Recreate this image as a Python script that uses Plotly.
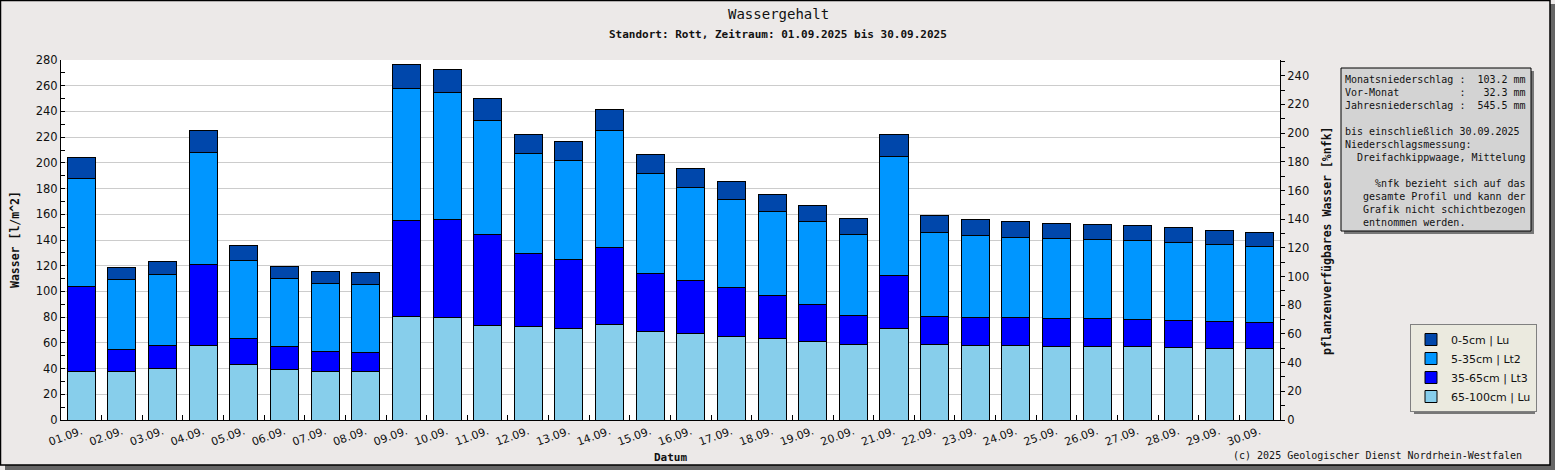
import plotly.graph_objects as go

# Datum (September 2025)
tage = [f"{d:02d}.09." for d in range(1, 31)]

# Wassergehalt je Schicht in l/m^2
schicht_65_100 = [37.6, 37.6, 40.2, 58.1, 43.3, 39.4, 37.6, 37.6, 80.6, 79.6,
                  73.6, 72.6, 71.0, 74.1, 69.0, 67.4, 64.8, 63.3, 61.2, 58.9,
                  71.0, 58.9, 58.1, 58.1, 57.3, 57.3, 57.3, 56.5, 55.7, 55.7]
schicht_35_65 = [66.5, 17.4, 17.4, 63.1, 20.3, 17.4, 15.9, 15.1, 74.9, 76.0,
                 70.8, 57.0, 54.0, 60.2, 45.1, 41.2, 38.4, 33.9, 28.8, 22.5,
                 41.5, 21.7, 21.8, 21.8, 21.8, 21.8, 21.0, 21.0, 21.0, 20.3]
schicht_5_35 = [84.0, 54.5, 55.8, 87.2, 60.7, 53.5, 52.9, 52.9, 102.6, 99.3,
                88.7, 77.8, 77.0, 91.0, 77.8, 72.4, 68.4, 65.1, 64.5, 63.0,
                92.3, 65.1, 63.5, 62.2, 62.2, 61.4, 61.4, 60.7, 59.9, 59.1]
schicht_0_5 = [16.4, 9.4, 10.1, 16.6, 11.7, 9.3, 9.3, 9.4, 18.7, 17.8,
               17.1, 14.8, 14.7, 16.3, 14.7, 14.7, 14.0, 13.2, 12.5, 12.5,
               17.4, 13.5, 12.7, 12.4, 11.7, 11.7, 11.7, 11.7, 10.9, 10.9]

info_zeilen = [
    "Monatsniederschlag :  103.2 mm",
    "Vor-Monat          :   32.3 mm",
    "Jahresniederschlag :  545.5 mm",
    "",
    "bis einschließlich 30.09.2025",
    "Niederschlagsmessung:",
    "  Dreifachkippwaage, Mittelung",
    "",
    "     %nfk bezieht sich auf das",
    "   gesamte Profil und kann der",
    "   Grafik nicht schichtbezogen",
    "   entnommen werden.",
]

mono = "DejaVu Sans Mono"
sans = "DejaVu Sans"

W, H = 1555, 470
L, R, T, B = 61, 275, 60, 50
pw, ph = W - L - R, H - T - B


def px(x):
    return (x - L) / pw


def py(y):
    return (H - B - y) / ph


fig = go.Figure()
for name, vals, col in [("65-100cm | Lu", schicht_65_100, "#87CEEB"),
                        ("35-65cm | Lt3", schicht_35_65, "#0000FF"),
                        ("5-35cm | Lt2", schicht_5_35, "#0096FF"),
                        ("0-5cm | Lu", schicht_0_5, "#0047AB")]:
    fig.add_trace(go.Bar(x=tage, y=vals, name=name,
                         marker=dict(color=col, line=dict(color="black", width=1))))

# leere Spur, damit die rechte Achse (%nfk) gezeichnet wird
fig.add_trace(go.Scatter(x=tage, y=[None] * len(tage), yaxis="y2",
                         showlegend=False, hoverinfo="skip"))

fig.update_layout(
    width=W, height=H,
    margin=dict(l=L, r=R, t=T, b=B, autoexpand=False),
    paper_bgcolor="#ECE9E8", plot_bgcolor="white",
    barmode="stack", bargap=0.31,
    font=dict(family=sans, size=11, color="#111"),
    xaxis=dict(type="category", tickangle=-20, showline=True, linecolor="black",
               ticks="inside", tickson="boundaries", ticklen=5, tickcolor="black",
               showgrid=False, tickfont=dict(size=11)),
    yaxis=dict(range=[0, 280], dtick=20, showline=True, linecolor="black",
               ticks="inside", ticklen=4, tickcolor="black",
               gridcolor="#CCCCCC", zeroline=False, tickfont=dict(size=11.5),
               minor=dict(dtick=10, ticks="inside", ticklen=4, tickcolor="black", showgrid=False)),
    yaxis2=dict(range=[0, 251], dtick=20, overlaying="y", side="right", anchor="x",
                showline=True, linecolor="black", ticks="outside", ticklen=4,
                tickcolor="black", showgrid=False, zeroline=False, tickfont=dict(size=11.5),
                minor=dict(dtick=10, ticks="outside", ticklen=4, tickcolor="black")),
    legend=dict(x=px(1410), y=py(324), xanchor="left", yanchor="top",
                traceorder="reversed", bgcolor="#EBEADF", bordercolor="#808080",
                borderwidth=1, font=dict(family=sans, size=11)),
    showlegend=True,
)

shapes = [
    # Rahmen mit Schatten
    dict(type="rect", xref="paper", yref="paper", x0=px(1550), x1=px(1555),
         y0=py(470), y1=py(4), fillcolor="#666666", line=dict(width=0)),
    dict(type="rect", xref="paper", yref="paper", x0=px(5), x1=px(1555),
         y0=py(470), y1=py(465), fillcolor="#666666", line=dict(width=0)),
    dict(type="rect", xref="paper", yref="paper", x0=px(0.5), x1=px(1550),
         y0=py(465), y1=py(0.5), line=dict(color="black", width=1.5)),
    # Infobox
    dict(type="rect", xref="paper", yref="paper", x0=px(1344), x1=px(1534),
         y0=py(234), y1=py(71), fillcolor="#777777", line=dict(width=0)),
    dict(type="rect", xref="paper", yref="paper", x0=px(1341), x1=px(1531),
         y0=py(231), y1=py(68), fillcolor="#D3D3D3", line=dict(color="black", width=1)),
    # Legendenschatten
    dict(type="rect", xref="paper", yref="paper", x0=px(1414), x1=px(1535),
         y0=py(414), y1=py(328), fillcolor="#777777", line=dict(width=0)),
]
fig.update_layout(shapes=shapes)

info_text = "<br>".join(z.replace(" ", "\u00a0") for z in info_zeilen)

annos = [
    dict(text="Wassergehalt", x=px(778), y=py(14), font=dict(family=mono, size=14)),
    dict(text="<b>Standort: Rott, Zeitraum: 01.09.2025 bis 30.09.2025</b>", x=px(778),
         y=py(34), font=dict(family=mono, size=11)),
    dict(text="<b>Datum</b>", x=px(670), y=py(457), font=dict(family=mono, size=11)),
    dict(text="<b>Wasser [l/m^2]</b>", x=px(15), y=py(240), textangle=-90,
         font=dict(family=mono, size=11.5)),
    dict(text="<b>pflanzenverfügbares Wasser [%nfk]</b>", x=px(1327), y=py(241), textangle=-90,
         font=dict(family=mono, size=11.5)),
    dict(text="(c) 2025 Geologischer Dienst Nordrhein-Westfalen", x=px(1524), y=py(455),
         xanchor="right", font=dict(family=mono, size=10)),
    dict(text=info_text, x=px(1343), y=py(72), xanchor="left", yanchor="top", align="left",
         font=dict(family=mono, size=10)),
]
for a in annos:
    a.setdefault("xref", "paper")
    a.setdefault("yref", "paper")
    a.setdefault("xanchor", "center")
    a.setdefault("yanchor", "middle")
    a.setdefault("showarrow", False)
    fig.add_annotation(**a)

fig.write_html("out.html", config={"displayModeBar": False},
               post_script="document.body.style.margin='0';")
